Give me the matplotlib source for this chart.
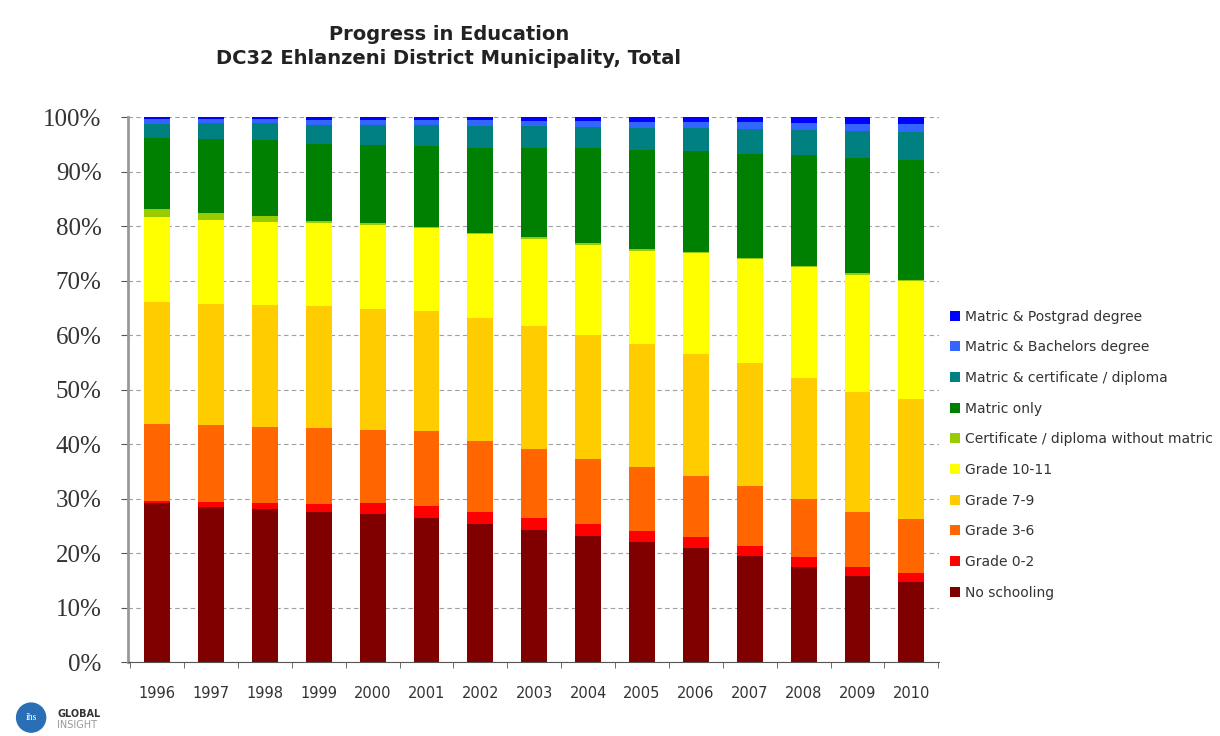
import numpy as np
import matplotlib.pyplot as plt
from matplotlib.patches import Circle

years = [str(y) for y in range(1996, 2011)]

# shares in % per category, bottom to top
no_schooling = [29.2, 28.5, 28.0, 27.6, 27.2, 26.5, 25.3, 24.2, 23.1, 22.1, 21.0, 19.4, 17.4, 15.8, 14.6]
grade_0_2 = [0.4, 0.9, 1.1, 1.4, 1.9, 2.2, 2.2, 2.3, 2.2, 1.9, 1.9, 1.9, 1.9, 1.6, 1.7]
grade_3_6 = [14.1, 14.1, 14.1, 14.0, 13.5, 13.7, 13.1, 12.6, 11.9, 11.7, 11.3, 11.0, 10.6, 10.2, 9.9]
grade_7_9 = [22.4, 22.2, 22.3, 22.3, 22.2, 22.1, 22.6, 22.6, 22.8, 22.6, 22.4, 22.5, 22.3, 22.0, 22.1]
grade_10_11 = [15.5, 15.4, 15.3, 15.2, 15.4, 15.2, 15.3, 16.0, 16.6, 17.2, 18.5, 19.1, 20.2, 21.5, 21.6]
cert_no_matric = [1.5, 1.2, 1.0, 0.4, 0.4, 0.2, 0.2, 0.2, 0.2, 0.2, 0.2, 0.2, 0.2, 0.2, 0.2]
matric_only = [13.0, 13.7, 13.9, 14.1, 14.3, 14.8, 15.6, 16.4, 17.5, 18.2, 18.5, 19.2, 20.4, 21.1, 22.0]
matric_cert = [2.7, 2.9, 3.2, 3.6, 3.7, 3.8, 4.1, 4.0, 3.9, 4.1, 4.2, 4.5, 4.7, 5.1, 5.2]
matric_bach = [0.9, 0.7, 0.7, 0.9, 0.8, 0.9, 1.0, 0.9, 1.0, 1.1, 1.0, 1.2, 1.2, 1.3, 1.4]
matric_post = [0.3, 0.4, 0.4, 0.5, 0.6, 0.6, 0.6, 0.8, 0.8, 0.9, 1.0, 1.0, 1.1, 1.2, 1.3]

series = [
    ("No schooling", no_schooling, "#800000"),
    ("Grade 0-2", grade_0_2, "#ff0000"),
    ("Grade 3-6", grade_3_6, "#ff6600"),
    ("Grade 7-9", grade_7_9, "#ffcc00"),
    ("Grade 10-11", grade_10_11, "#ffff00"),
    ("Certificate / diploma without matric", cert_no_matric, "#99cc00"),
    ("Matric only", matric_only, "#008000"),
    ("Matric & certificate / diploma", matric_cert, "#008080"),
    ("Matric & Bachelors degree", matric_bach, "#3366ff"),
    ("Matric & Postgrad degree", matric_post, "#0000ff"),
]

fig = plt.figure(figsize=(12.2, 7.36), dpi=100)
ax = fig.add_axes([0.105, 0.1005, 0.665, 0.7405])

x = np.arange(len(years))
bottom = np.zeros(len(years))
handles = []
for name, vals, col in series:
    vals = np.array(vals)
    b = ax.bar(x, vals / 100.0, bottom=bottom / 100.0, width=0.48, color=col,
               edgecolor="none", label=name, zorder=3)
    handles.append(b)
    bottom += vals

ax.set_xlim(-0.54, len(years) - 0.48)
ax.set_ylim(0, 1)
yt = np.arange(0, 1.01, 0.1)
ax.set_yticks(yt)
ax.set_yticklabels([f"{int(round(v * 100))}%" for v in yt],
                   fontfamily="Liberation Serif", fontsize=18, color="#333333")
ax.set_xticks(x)
ax.set_xticklabels(years, fontfamily="DejaVu Sans", fontsize=10.5, color="#333333")
ax.set_xticks(np.arange(-0.5, len(years), 1), minor=True)
ax.tick_params(axis="x", which="major", length=0, pad=17)
ax.tick_params(axis="x", which="minor", length=4, direction="out", color="#555555")
ax.tick_params(axis="y", length=5, direction="out", color="#555555", pad=14)

ax.yaxis.grid(True, linestyle=(0, (4, 3)), color="#a0a0a0", linewidth=0.8, zorder=0)
for s in ["top", "right"]:
    ax.spines[s].set_visible(False)
ax.spines["left"].set_color("#999999")
ax.spines["left"].set_linewidth(2)
ax.spines["bottom"].set_color("#555555")

fig.text(0.368, 0.953, "Progress in Education", ha="center", va="center",
         fontsize=14, fontweight="bold", color="#222222")
fig.text(0.368, 0.920, "DC32 Ehlanzeni District Municipality, Total", ha="center",
         va="center", fontsize=14, fontweight="bold", color="#222222")

leg = fig.legend(handles[::-1], [s[0] for s in series][::-1],
                 loc="upper left", bbox_to_anchor=(0.774, 0.587), frameon=False,
                 fontsize=10, handlelength=0.7, handleheight=0.7, handletextpad=0.4,
                 labelspacing=1.2, borderaxespad=0)
for t in leg.get_texts():
    t.set_color("#333333")

# logo
lax = fig.add_axes([0.008, -0.004, 0.035, 0.058])
lax.set_aspect("equal")
lax.set_xlim(0, 1)
lax.set_ylim(0, 1)
lax.axis("off")
lax.add_patch(Circle((0.5, 0.5), 0.34, color="#2a6fb5"))
lax.text(0.5, 0.5, "ihs", color="white", fontsize=7, ha="center", va="center",
         fontfamily="Liberation Serif")
fig.text(0.047, 0.030, "GLOBAL", fontsize=7, fontweight="bold", color="#333333",
         va="center")
fig.text(0.047, 0.015, "INSIGHT", fontsize=7, color="#999999", va="center")

plt.savefig("out.png", dpi=100)
